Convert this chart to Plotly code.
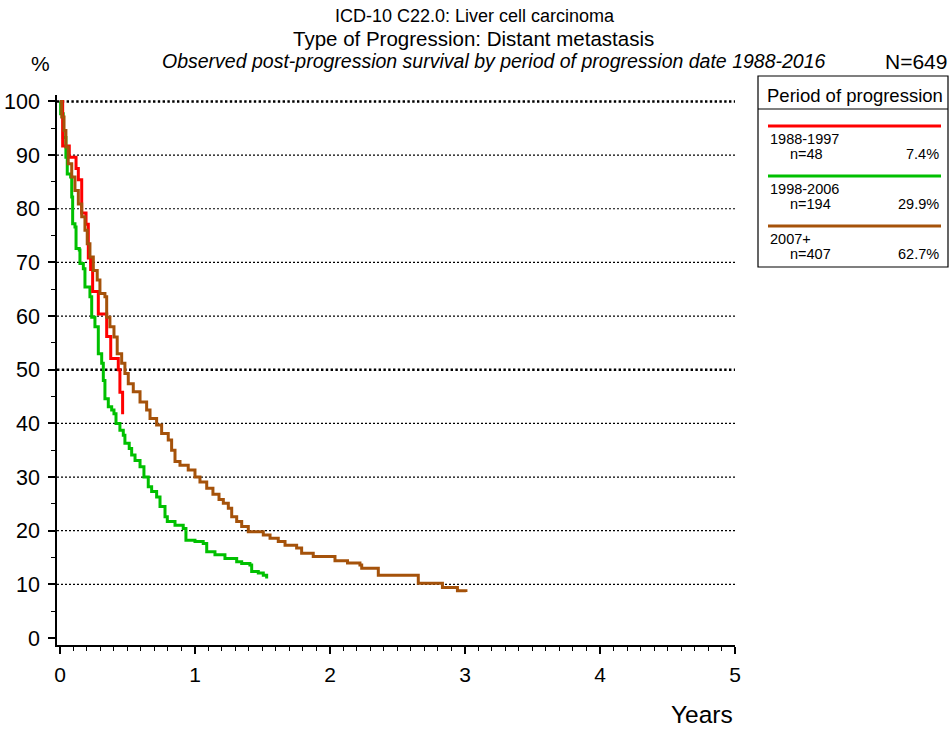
import plotly.graph_objects as go

# Observed post-progression survival (years after progression, % surviving)
t_1988 = [0, 0.02, 0.069, 0.119, 0.136, 0.161, 0.193, 0.21, 0.227, 0.242, 0.284,
          0.346, 0.376, 0.432, 0.444, 0.464]
s_1988 = [100, 91.7, 89.6, 87.5, 85.4, 79.2, 77.1, 70.8, 68.7, 64.6, 60.4,
          56.2, 52.1, 50.0, 45.8, 41.7]

t_1998 = [0, 0.005, 0.024, 0.044, 0.054, 0.079, 0.087, 0.094, 0.111, 0.119, 0.143,
          0.148, 0.173, 0.185, 0.222, 0.235, 0.259, 0.284, 0.309, 0.321, 0.333,
          0.358, 0.383, 0.4, 0.415, 0.444, 0.469, 0.481, 0.513, 0.531, 0.556,
          0.593, 0.622, 0.654, 0.679, 0.716, 0.741, 0.778, 0.795, 0.852, 0.913,
          0.933, 1.0, 1.061, 1.087, 1.148, 1.222, 1.309, 1.346, 1.407, 1.42,
          1.469, 1.506, 1.531]
s_1998 = [100, 97.7, 93.3, 89.6, 86.5, 85.9, 82.2, 77.2, 76.6, 72.6, 72.3,
          69.8, 68.8, 65.4, 63.6, 59.8, 58.0, 53.0, 51.2, 48.0, 44.6,
          43.1, 42.5, 41.8, 40.0, 38.7, 37.8, 36.3, 35.3, 34.1, 33.1,
          31.9, 30.0, 28.2, 27.3, 26.3, 24.5, 22.6, 21.7, 21.0, 20.4,
          18.2, 18.0, 17.6, 16.1, 15.5, 14.8, 14.2, 13.9, 13.6, 12.4,
          12.1, 11.7, 11.1]

t_2007 = [0, 0.013, 0.03, 0.044, 0.061, 0.087, 0.111, 0.136, 0.161, 0.185, 0.202,
          0.222, 0.247, 0.276, 0.296, 0.333, 0.346, 0.37, 0.4, 0.424, 0.457,
          0.481, 0.506, 0.543, 0.593, 0.642, 0.667, 0.716, 0.753, 0.802, 0.827,
          0.852, 0.889, 0.95, 1.0, 1.037, 1.087, 1.133, 1.178, 1.21, 1.247,
          1.272, 1.309, 1.346, 1.395, 1.506, 1.556, 1.617, 1.667, 1.753, 1.79,
          1.876, 2.037, 2.13, 2.222, 2.235, 2.358, 2.654, 2.833, 2.944, 3.007]
s_2007 = [100, 97.1, 94.6, 91.5, 88.4, 85.9, 83.4, 80.9, 78.5, 76.0, 73.5,
          71.0, 68.5, 66.7, 64.2, 63.6, 59.8, 58.0, 56.1, 53.0, 51.2,
          49.3, 47.4, 45.9, 44.0, 42.5, 40.9, 39.7, 38.1, 36.9, 35.0,
          32.9, 32.2, 31.3, 30.0, 29.1, 27.9, 26.8, 25.8, 25.1, 24.2,
          22.6, 21.7, 20.8, 19.8, 19.2, 18.6, 18.0, 17.3, 16.8, 15.8,
          15.2, 14.4, 14.0, 13.6, 13.0, 11.7, 10.2, 9.4, 8.8, 8.6]

periods = ["1988-1997", "1998-2006", "2007+"]
n_cases = [48, 194, 407]
shares = ["7.4%", "29.9%", "62.7%"]
colors = ["#FF0000", "#00C000", "#A5520A"]

grid_levels = [10, 20, 30, 40, 60, 70, 80, 90]
bold_levels = [50, 100]
x_ticks = [0, 1, 2, 3, 4, 5]
y_ticks = [0, 10, 20, 30, 40, 50, 60, 70, 80, 90, 100]

W, H = 951, 729
L, R, T, B = 57, 735, 95, 645
FONT = "Liberation Sans, Arial, sans-serif"


def px(x):
    return (x - L) / (R - L)


def py(y):
    return (B - y) / (B - T)


def label(x, y, text, size, xanchor="center", italic=False):
    fig.add_annotation(x=px(x), y=py(y), xref="paper", yref="paper",
                       text=f"<i>{text}</i>" if italic else text, showarrow=False,
                       xanchor=xanchor, yanchor="middle",
                       font=dict(family=FONT, size=size, color="black"))


fig = go.Figure()

series = [(t_1998, s_1998), (t_1988, s_1988), (t_2007, s_2007)]
order = [1, 0, 2]
for idx, (tt, ss) in zip(order, series):
    fig.add_trace(go.Scatter(
        x=tt, y=ss, mode="lines", line=dict(color=colors[idx], width=3, shape="hv"),
        name=periods[idx], showlegend=False, hoverinfo="skip"))

# dotted reference lines
for lvl in grid_levels:
    fig.add_shape(type="line", xref="paper", yref="y", x0=0, x1=1, y0=lvl, y1=lvl,
                  line=dict(color="black", width=1.2, dash="2px,2px"), layer="below")
for lvl in bold_levels:
    fig.add_shape(type="line", xref="paper", yref="y", x0=0, x1=1, y0=lvl, y1=lvl,
                  line=dict(color="black", width=2.4, dash="2.4px,2.4px"), layer="below")

# legend panel
fig.add_shape(type="rect", xref="paper", yref="paper", x0=px(758), x1=px(948),
              y0=py(267), y1=py(76), line=dict(color="black", width=1.2))
fig.add_shape(type="line", xref="paper", yref="paper", x0=px(758), x1=px(948),
              y0=py(109), y1=py(109), line=dict(color="black", width=1.2))
label(855, 95, "Period of progression", 18.5)
for i, (per, n, sh, c) in enumerate(zip(periods, n_cases, shares, colors)):
    y0 = 126 + i * 50
    fig.add_shape(type="line", xref="paper", yref="paper", x0=px(768), x1=px(941),
                  y0=py(y0), y1=py(y0), line=dict(color=c, width=3))
    label(768, y0 + 13, per, 14.5, "left")
    label(788, y0 + 28, f"n={n}", 14.5, "left")
    label(941, y0 + 28, sh, 14.5, "right")

# titles
label(475, 16, "ICD-10 C22.0: Liver cell carcinoma", 18)
label(473, 38, "Type of Progression: Distant metastasis", 20.5)
label(494, 61, "Observed post-progression survival by period of progression date 1988-2016",
      19.5, italic=True)
label(40, 63, "%", 21)
label(949, 61, "N=649", 21, "right")
label(735, 714, "Years", 24.5, "right")

fig.update_layout(
    width=W, height=H,
    margin=dict(l=L, r=W - R, t=T, b=H - B, pad=0),
    paper_bgcolor="white", plot_bgcolor="white",
    font=dict(family=FONT, color="black"),
    xaxis=dict(range=[-0.022, 5.0], showgrid=False, zeroline=False,
               showline=True, linecolor="black", linewidth=1.5,
               ticks="outside", ticklen=7, tickwidth=1.5, tickcolor="black",
               tickvals=x_ticks, ticktext=[str(v) for v in x_ticks],
               tickfont=dict(size=21), ticklabelstandoff=3, automargin=False,
               minor=dict(tick0=0, dtick=0.1, ticks="outside", ticklen=4,
                          tickwidth=1, tickcolor="black")),
    yaxis=dict(range=[-1.3, 101.2], showgrid=False, zeroline=False,
               showline=True, linecolor="black", linewidth=1.5,
               ticks="outside", ticklen=7, tickwidth=1.5, tickcolor="black",
               tickvals=y_ticks, ticktext=[str(v) for v in y_ticks],
               tickfont=dict(size=21.5), ticklabelstandoff=4, automargin=False,
               minor=dict(tick0=0, dtick=5, ticks="outside", ticklen=4,
                          tickwidth=1, tickcolor="black")),
)

fig.write_html("out.html")
